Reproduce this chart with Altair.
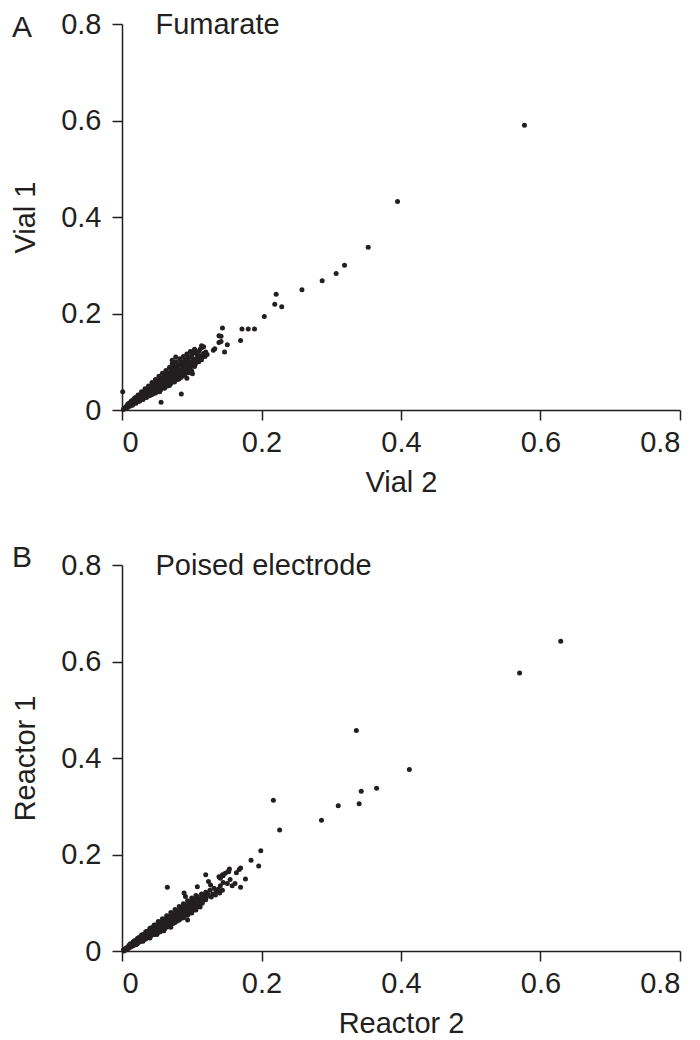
import altair as alt
import pandas as pd

# ---------------- Panel A: Fumarate (Vial 2 vs Vial 1) ----------------
fum_band_x = [0.002,0.003,0.005,0.006,0.008,0.009,0.010,0.011,0.012,0.013,0.014,0.015,0.016,0.017,0.018,0.019,0.020,0.021,0.022,0.023,
              0.024,0.025,0.026,0.027,0.028,0.029,0.030,0.031,0.032,0.033,0.034,0.035,0.036,0.037,0.038,0.039,0.040,0.041,0.042,0.043,
              0.044,0.045,0.046,0.047,0.048,0.049,0.050,0.051,0.052,0.053,0.054,0.055,0.056,0.057,0.058,0.059,0.060,0.061,0.062,0.063,
              0.064,0.065,0.066,0.067,0.068,0.069,0.070,0.071,0.072,0.073,0.074,0.075,0.076,0.077,0.078,0.079,0.080,0.081,0.082,0.083,
              0.084,0.085,0.086,0.087,0.088,0.089,0.090,0.091,0.092,0.093,0.094,0.095,0.096,0.097,0.098,0.099,0.100,0.101,0.102,0.104,
              0.105,0.106,0.107,0.108,0.110,0.111,0.112,0.114,0.115,0.117]
fum_band_y = [0.001,0.004,0.003,0.007,0.005,0.010,0.007,0.013,0.009,0.011,0.015,0.012,0.018,0.014,0.016,0.021,0.015,0.019,0.024,0.018,
              0.021,0.026,0.020,0.024,0.029,0.033,0.023,0.027,0.031,0.036,0.026,0.030,0.034,0.039,0.029,0.033,0.037,0.042,0.046,0.032,
              0.036,0.040,0.044,0.049,0.035,0.039,0.043,0.047,0.052,0.056,0.038,0.042,0.046,0.050,0.054,0.059,0.063,0.045,0.049,0.053,
              0.057,0.061,0.066,0.070,0.051,0.055,0.059,0.063,0.068,0.072,0.077,0.058,0.062,0.066,0.070,0.075,0.079,0.084,0.065,0.069,
              0.073,0.077,0.082,0.086,0.091,0.072,0.076,0.081,0.085,0.089,0.094,0.098,0.080,0.084,0.088,0.093,0.097,0.101,0.106,0.090,
              0.095,0.099,0.104,0.108,0.100,0.106,0.112,0.104,0.110,0.116]
fum_upper_x = [0.010,0.015,0.020,0.025,0.030,0.035,0.040,0.045,0.050,0.055,0.060,0.065,0.070,0.075,0.080,0.085,0.090,0.095,0.100,0.105,0.110]
fum_upper_y = [0.014,0.020,0.026,0.031,0.037,0.042,0.048,0.054,0.060,0.066,0.071,0.077,0.083,0.089,0.094,0.099,0.104,0.110,0.115,0.118,0.121]
fum_top_x = [0.008,0.013,0.018,0.023,0.028,0.033,0.038,0.043,0.048,0.053,0.058,0.063,0.068,0.073,0.078,0.083,0.088,0.093,0.098]
fum_top_y = [0.012,0.018,0.025,0.031,0.038,0.044,0.050,0.057,0.063,0.070,0.076,0.082,0.088,0.094,0.100,0.106,0.111,0.116,0.121]
fum_mid_x = [0.012,0.0145,0.017,0.0195,0.022,0.0245,0.027,0.0295,0.032,0.0345,0.037,0.0395,0.042,0.0445,0.047,0.0495,0.052,0.0545,
             0.057,0.0595,0.062,0.0645,0.067,0.0695,0.072,0.0745,0.077,0.0795,0.082,0.0845,0.087,0.0895,0.092,0.0945,0.097,0.0995,0.102]
fum_mid_y = [0.012,0.016,0.017,0.022,0.021,0.027,0.026,0.033,0.030,0.038,0.035,0.044,0.040,0.049,0.045,0.055,0.049,0.060,
             0.054,0.066,0.059,0.071,0.064,0.077,0.068,0.082,0.073,0.088,0.078,0.093,0.083,0.099,0.087,0.104,0.092,0.110,0.097]
fum_lower_x = [0.015,0.020,0.025,0.030,0.035,0.040,0.045,0.050,0.055,0.060,0.065,0.070,0.075,0.080,0.085,0.090,0.095,0.100]
fum_lower_y = [0.010,0.014,0.018,0.022,0.026,0.030,0.034,0.038,0.042,0.046,0.050,0.055,0.059,0.063,0.068,0.072,0.077,0.081]
fum_sparse_x = [0.001,0.056,0.085,0.093,0.101,0.099,0.094,0.096,0.072,0.077,0.072,0.103,0.108,0.112,0.115,0.117,0.114,0.104,0.117,0.120,
                0.122,0.119,0.131,0.133,0.147,0.151,0.139,0.142,0.139,0.142,0.144,0.170,0.172,0.181,0.190,0.204,0.219,0.229,0.221,0.258,
                0.287,0.307,0.319,0.353,0.395,0.577]
fum_sparse_y = [0.038,0.016,0.033,0.066,0.075,0.082,0.079,0.086,0.096,0.110,0.103,0.123,0.114,0.126,0.130,0.131,0.133,0.126,0.117,0.120,
                0.115,0.111,0.124,0.127,0.120,0.135,0.140,0.142,0.154,0.153,0.170,0.144,0.168,0.168,0.168,0.194,0.219,0.214,0.240,0.249,
                0.268,0.283,0.300,0.3375,0.432,0.590]

# ---------------- Panel B: Poised electrode (Reactor 2 vs Reactor 1) ----------------
poi_band_x = [0.002,0.003,0.004,0.005,0.006,0.007,0.008,0.009,0.010,0.011,0.012,0.013,0.014,0.015,0.016,0.017,0.018,0.019,0.020,0.021,
              0.022,0.023,0.024,0.025,0.026,0.027,0.028,0.029,0.030,0.031,0.032,0.033,0.034,0.035,0.036,0.037,0.038,0.039,0.040,0.041,
              0.042,0.043,0.044,0.045,0.046,0.047,0.048,0.049,0.050,0.051,0.052,0.053,0.054,0.055,0.056,0.057,0.058,0.059,0.060,0.061,
              0.062,0.063,0.064,0.065,0.066,0.067,0.068,0.069,0.070,0.071,0.072,0.073,0.074,0.075,0.076,0.077,0.078,0.079,0.080,0.081,
              0.082,0.083,0.084,0.085,0.086,0.087,0.088,0.089,0.090,0.091,0.092,0.093,0.094,0.095,0.096,0.097,0.098,0.099,0.100,0.101,
              0.102,0.103,0.104,0.105,0.106,0.107,0.108,0.109,0.110,0.111,0.112,0.113,0.115,0.116,0.117,0.118,0.120,0.121,0.123]
poi_band_y = [0.002,0.000,0.004,0.002,0.006,0.004,0.008,0.005,0.010,0.007,0.012,0.009,0.014,0.011,0.016,0.013,0.018,0.014,0.021,0.016,
              0.019,0.024,0.018,0.022,0.027,0.021,0.025,0.030,0.023,0.027,0.032,0.025,0.029,0.034,0.038,0.028,0.032,0.036,0.041,0.031,
              0.035,0.039,0.044,0.034,0.038,0.042,0.047,0.051,0.037,0.041,0.045,0.049,0.054,0.040,0.044,0.048,0.052,0.057,0.061,0.046,
              0.050,0.054,0.058,0.063,0.067,0.052,0.056,0.060,0.064,0.068,0.073,0.057,0.061,0.065,0.069,0.074,0.078,0.062,0.066,0.070,
              0.075,0.079,0.084,0.068,0.072,0.076,0.080,0.085,0.089,0.074,0.078,0.082,0.086,0.091,0.095,0.079,0.083,0.087,0.092,0.096,
              0.101,0.085,0.089,0.094,0.098,0.103,0.107,0.092,0.096,0.100,0.105,0.109,0.099,0.104,0.110,0.114,0.106,0.112,0.117]
poi_upper_x = [0.012,0.018,0.024,0.030,0.036,0.042,0.048,0.054,0.060,0.066,0.072,0.078,0.084,0.090,0.096,0.102,0.108,0.114,0.120,0.126]
poi_upper_y = [0.015,0.021,0.028,0.034,0.041,0.048,0.054,0.060,0.066,0.072,0.078,0.084,0.090,0.096,0.102,0.108,0.113,0.118,0.122,0.126]
poi_top_x = [0.010,0.016,0.022,0.028,0.034,0.040,0.046,0.052,0.058,0.064,0.070,0.076,0.082,0.088,0.094,0.100,0.106]
poi_top_y = [0.012,0.019,0.026,0.033,0.040,0.047,0.054,0.061,0.067,0.073,0.080,0.086,0.092,0.098,0.104,0.110,0.115]
poi_mid_x = [0.013,0.019,0.025,0.031,0.037,0.043,0.049,0.055,0.061,0.067,0.073,0.079,0.085,0.091,0.097,0.103,0.109,0.115]
poi_mid_y = [0.012,0.018,0.023,0.029,0.034,0.040,0.046,0.051,0.057,0.062,0.068,0.073,0.079,0.085,0.090,0.096,0.101,0.107]
poi_lower_x = [0.016,0.020,0.022,0.028,0.030,0.034,0.040,0.040,0.046,0.050,0.052,0.058,0.060,0.064,0.070,0.070,0.076,0.082,0.088,
               0.094,0.100,0.106,0.112]
poi_lower_y = [0.011,0.013,0.015,0.020,0.020,0.025,0.029,0.027,0.034,0.034,0.039,0.044,0.042,0.049,0.054,0.049,0.059,0.064,0.069,
               0.074,0.079,0.085,0.091]
poi_sparse_x = [0.065,0.108,0.120,0.124,0.127,0.139,0.144,0.148,0.153,0.144,0.151,0.155,0.089,0.091,0.094,0.130,0.135,0.132,0.138,0.141,
                0.145,0.128,0.134,0.140,0.158,0.162,0.170,0.177,0.164,0.168,0.170,0.154,0.152,0.145,0.141,0.185,0.196,0.199,0.226,0.217,
                0.286,0.310,0.340,0.343,0.365,0.412,0.336,0.570,0.629]
poi_sparse_y = [0.132,0.133,0.158,0.144,0.137,0.154,0.158,0.161,0.164,0.126,0.140,0.148,0.120,0.113,0.064,0.118,0.125,0.130,0.128,0.135,
                0.142,0.112,0.116,0.120,0.135,0.140,0.132,0.149,0.162,0.169,0.172,0.170,0.165,0.156,0.151,0.188,0.176,0.208,0.251,0.3125,
                0.271,0.301,0.305,0.331,0.3375,0.376,0.457,0.576,0.642]

tick_values = [0, 0.2, 0.4, 0.6, 0.8]
panels = [
    ("A", "Fumarate", "Vial 2", "Vial 1",
     fum_band_x + fum_upper_x + fum_top_x + fum_mid_x + fum_lower_x + fum_sparse_x,
     fum_band_y + fum_upper_y + fum_top_y + fum_mid_y + fum_lower_y + fum_sparse_y),
    ("B", "Poised electrode", "Reactor 2", "Reactor 1",
     poi_band_x + poi_upper_x + poi_top_x + poi_mid_x + poi_lower_x + poi_sparse_x,
     poi_band_y + poi_upper_y + poi_top_y + poi_mid_y + poi_lower_y + poi_sparse_y),
]

INK = "#231f20"
FONT = "Liberation Sans"
FS = 29
LABEL_EXPR = "datum.value == 0 ? '0' : format(datum.value, '.1f')"


def make_panel(letter, name, xtitle, ytitle, xs, ys, letter_y):
    df = pd.DataFrame({"x": xs, "y": ys})
    xenc = alt.X("x:Q", title=xtitle,
                 scale=alt.Scale(domain=[0, 0.8], nice=False, zero=False),
                 axis=alt.Axis(values=tick_values, labelExpr=LABEL_EXPR, grid=False))
    yenc = alt.Y("y:Q", title=ytitle,
                 scale=alt.Scale(domain=[0, 0.8], nice=False, zero=False),
                 axis=alt.Axis(values=tick_values, labelExpr=LABEL_EXPR, grid=False))
    pts = alt.Chart(df).mark_circle(size=25, color=INK, opacity=1).encode(x=xenc, y=yenc)
    lab = alt.Chart(pd.DataFrame({"x": [0.048], "y": [0.779], "t": [name]})).mark_text(
        align="left", baseline="alphabetic", font=FONT, fontSize=FS, color=INK
    ).encode(x=alt.X("x:Q", title=xtitle), y=alt.Y("y:Q", title=ytitle), text="t:N")
    let = alt.Chart(pd.DataFrame({"t": [letter]})).mark_text(
        align="left", baseline="alphabetic", font=FONT, fontSize=30, color=INK
    ).encode(x=alt.value(-110), y=alt.value(letter_y), text="t:N")
    return alt.layer(pts, lab, let).properties(width=558, height=386)


pa = make_panel(*panels[0], letter_y=13)
pb = make_panel(*panels[1], letter_y=2)

chart = alt.vconcat(pa, pb, spacing=46).properties(
    padding={"left": 3, "top": 2, "right": 5, "bottom": 0}
).configure_view(stroke=None).configure_axis(
    domainColor=INK, domainWidth=1.5, tickColor=INK, tickWidth=1.5, tickSize=10,
    labelFont=FONT, labelFontSize=FS, labelColor=INK,
    titleFont=FONT, titleFontSize=FS, titleFontWeight="normal", titleColor=INK,
).configure_axisX(labelPadding=8, titlePadding=11).configure_axisY(labelPadding=11, titlePadding=20)

chart.save("out.html", embed_options={"renderer": "svg", "actions": False})
